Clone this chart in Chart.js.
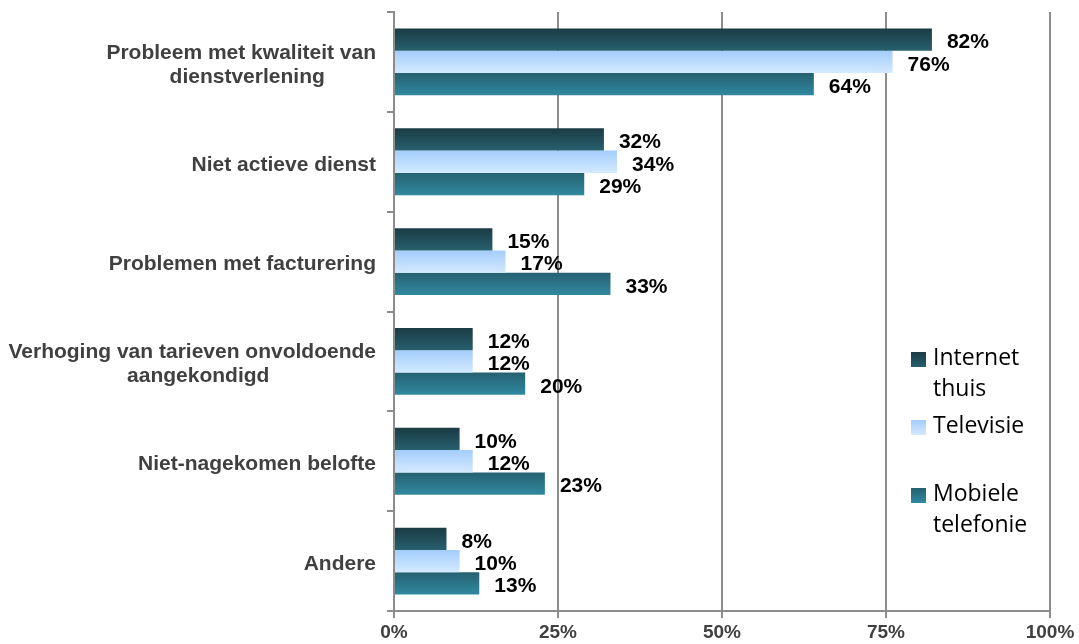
<!DOCTYPE html>
<html>
<head>
<meta charset="utf-8">
<script src="https://cdn.jsdelivr.net/npm/chart.js@4/dist/chart.umd.min.js"></script>
<style>
  html, body { margin: 0; padding: 0; background: #fff; }
  #wrap { position: relative; width: 1079px; height: 644px; }
</style>
</head>
<body>
<div id="wrap"><canvas id="barChart" width="1079" height="644"></canvas></div>
<script>
// categories (lines per label) and values in %
const categories = [
  ["Probleem met kwaliteit van", "dienstverlening"],
  ["Niet actieve dienst"],
  ["Problemen met facturering"],
  ["Verhoging van tarieven onvoldoende", "aangekondigd"],
  ["Niet-nagekomen belofte"],
  ["Andere"]
];
const seriesNames = [["Internet", "thuis"], ["Televisie"], ["Mobiele", "telefonie"]];
const internetThuis = [82, 32, 15, 12, 10, 8];
const televisie = [76, 34, 17, 12, 12, 10];
const mobieleTelefonie = [64, 29, 33, 20, 23, 13];
const xTicks = [0, 25, 50, 75, 100];

const gradStops = [
  ["#1b3b44", "#27606e"],
  ["#a3cdfb", "#d4eaff"],
  ["#266170", "#3089a0"]
];
const CAT_PCT = 0.67;

function barFill(ctx) {
  const chart = ctx.chart;
  const y = chart.scales.y;
  const fallback = gradStops[ctx.datasetIndex][1];
  if (!y || ctx.dataIndex === undefined) return fallback;
  const center = y.getPixelForValue(ctx.dataIndex);
  const band = Math.abs(y.getPixelForValue(1) - y.getPixelForValue(0)) * CAT_PCT;
  if (!isFinite(center) || !isFinite(band) || band <= 0) return fallback;
  const h = band / 3;
  const top = center - band / 2 + ctx.datasetIndex * h;
  const g = chart.ctx.createLinearGradient(0, top, 0, top + h);
  g.addColorStop(0, gradStops[ctx.datasetIndex][0]);
  g.addColorStop(1, gradStops[ctx.datasetIndex][1]);
  return g;
}

// value labels right of bars, category labels, legend
const drawExtras = {
  id: "drawExtras",
  afterDraw(chart) {
    const c = chart.ctx;
    c.save();
    // value labels
    c.font = "bold 21px 'Liberation Sans', Arial, sans-serif";
    c.fillStyle = "#000";
    c.textAlign = "left";
    c.textBaseline = "middle";
    chart.data.datasets.forEach((ds, di) => {
      chart.getDatasetMeta(di).data.forEach((bar, i) => {
        c.fillText(ds.data[i] + "%", bar.x + 15, bar.y + 3);
      });
    });
    // category labels
    const y = chart.scales.y;
    c.font = "bold 21px 'Liberation Sans', Arial, sans-serif";
    c.fillStyle = "#404040";
    c.textAlign = "center";
    categories.forEach((lines, i) => {
      const cy = y.getPixelForValue(i);
      const w = Math.max(...lines.map(l => c.measureText(l).width));
      const cx = 376 - w / 2 + (lines.length > 1 ? 6 : 0);
      const lh = 24;
      lines.forEach((l, k) => {
        const off = lines.length > 1 && k === 0 ? -6 : 0;
        c.fillText(l, cx + off, cy + (k - (lines.length - 1) / 2) * lh + 3);
      });
    });
    // legend
    c.font = "23px 'Open Sans', sans-serif";
    c.textAlign = "left";
    const itemTops = [343, 411, 479];
    chart.data.datasets.forEach((ds, di) => {
      const t = itemTops[di];
      const g = c.createLinearGradient(0, t + 9, 0, t + 24);
      g.addColorStop(0, gradStops[di][0]);
      g.addColorStop(1, gradStops[di][1]);
      c.fillStyle = g;
      c.fillRect(911, t + 9, 15, 15);
      c.fillStyle = "#000";
      seriesNames[di].forEach((l, k) => {
        c.fillText(l, 933, t + 15 + k * 31);
      });
    });
    c.restore();
  }
};

new Chart(document.getElementById("barChart"), {
  type: "bar",
  data: {
    labels: categories.map(l => l.join(" ")),
    datasets: [
      { label: "Internet thuis", data: internetThuis, backgroundColor: barFill },
      { label: "Televisie", data: televisie, backgroundColor: barFill },
      { label: "Mobiele telefonie", data: mobieleTelefonie, backgroundColor: barFill }
    ]
  },
  options: {
    indexAxis: "y",
    responsive: false,
    animation: false,
    layout: { padding: { top: 12, right: 29, left: 0, bottom: 0 } },
    datasets: { bar: { categoryPercentage: CAT_PCT, barPercentage: 1 } },
    plugins: { legend: { display: false }, tooltip: { enabled: false } },
    scales: {
      x: {
        min: 0,
        max: 100,
        afterBuildTicks(axis) { axis.ticks = xTicks.map(v => ({ value: v })); },
        afterFit(axis) { axis.height = 33; },
        grid: { color: "#8c8c8c", lineWidth: 2, tickLength: 7 },
        border: { color: "#8c8c8c", width: 2 },
        ticks: {
          callback: v => v + "%",
          color: "#404040",
          padding: 3,
          maxRotation: 0,
          font: { family: "'Liberation Sans', Arial, sans-serif", size: 19, weight: "bold" }
        }
      },
      y: {
        afterFit(axis) { axis.width = 394; },
        grid: { drawOnChartArea: false, color: "#8c8c8c", lineWidth: 2, tickLength: 7 },
        border: { color: "#8c8c8c", width: 2 },
        ticks: { display: false }
      }
    }
  },
  plugins: [drawExtras]
});
</script>
</body>
</html>
